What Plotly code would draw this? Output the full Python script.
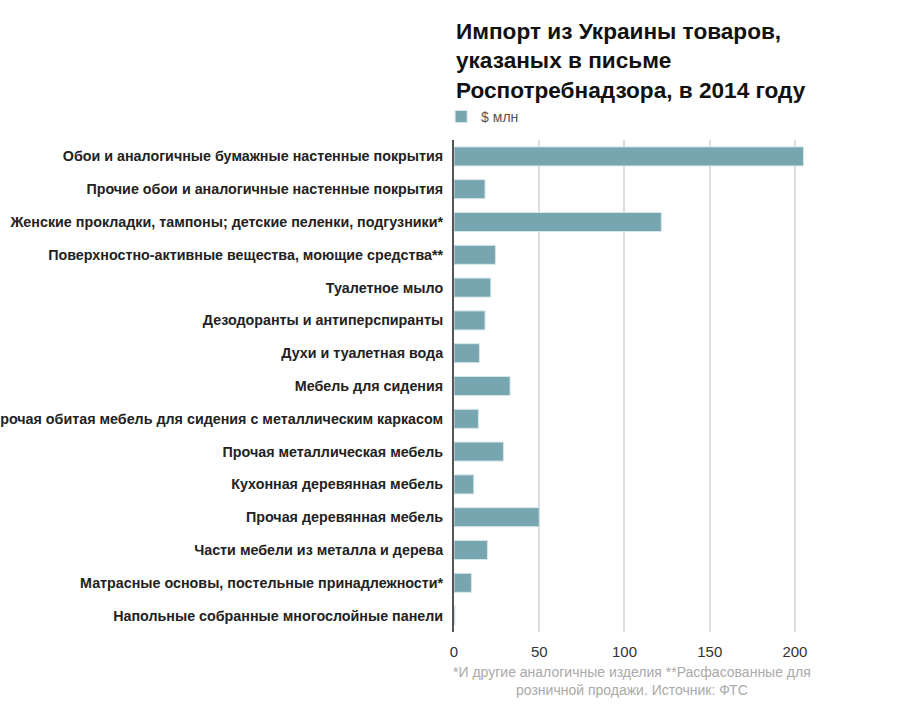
import plotly.graph_objects as go

categories = [
    "Обои и аналогичные бумажные настенные покрытия",
    "Прочие обои и аналогичные настенные покрытия",
    "Женские прокладки, тампоны; детские пеленки, подгузники*",
    "Поверхностно-активные вещества, моющие средства**",
    "Туалетное мыло",
    "Дезодоранты и антиперспиранты",
    "Духи и туалетная вода",
    "Мебель для сидения",
    "Прочая обитая мебель для сидения с металлическим каркасом",
    "Прочая металлическая мебель",
    "Кухонная деревянная мебель",
    "Прочая деревянная мебель",
    "Части мебели из металла и дерева",
    "Матрасные основы, постельные принадлежности*",
    "Напольные собранные многослойные панели",
]
values = [205, 18.2, 121.6, 24.3, 21.6, 18.2, 14.9, 32.9, 14.3, 29.0, 11.6, 50, 19.6, 10.2, 0.5]
series_name = "$ млн"
tick_values = [0, 50, 100, 150, 200]

title_text = "Импорт из Украины товаров,<br>указаных в письме<br>Роспотребнадзора, в 2014 году"
footer_text = "*И другие аналогичные изделия **Расфасованные для<br>розничной продажи. Источник: ФТС"

FONT = "Liberation Sans, Arial, sans-serif"

fig = go.Figure()
fig.add_trace(go.Bar(
    y=categories,
    x=values,
    orientation="h",
    name=series_name,
    marker=dict(color="#77a5b0", line=dict(color="#d6e6ea", width=1)),
    showlegend=True,
))

fig.update_layout(
    width=915,
    height=715,
    margin=dict(l=454, r=103, t=140, b=83),
    paper_bgcolor="white",
    plot_bgcolor="white",
    bargap=0.42,
    font=dict(family=FONT, color="#222"),
    legend=dict(
        orientation="h",
        x=-0.036, xanchor="left",
        y=1.047, yanchor="middle",
        font=dict(size=14, color="#555"),
        itemwidth=30,
    ),
    xaxis=dict(
        range=[0, 210],
        tickvals=tick_values,
        showgrid=True,
        gridcolor="#dddddd",
        gridwidth=2,
        zeroline=False,
        showline=False,
        tickfont=dict(size=15, color="#333"),
        ticks="outside",
        ticklen=6,
        tickcolor="rgba(0,0,0,0)",
        automargin=False,
    ),
    yaxis=dict(
        autorange="reversed",
        showline=True,
        linecolor="#555",
        linewidth=2,
        ticks="outside",
        ticklen=6,
        tickcolor="rgba(0,0,0,0)",
        tickfont=dict(size=14.3, color="#222", family=FONT, weight="bold"),
        showgrid=False,
        automargin=False,
    ),
    annotations=[
        dict(
            text="<b>" + title_text + "</b>",
            xref="paper", yref="paper",
            x=0, y=1 + 123 / 492, xanchor="left", yanchor="top",
            align="left", showarrow=False,
            font=dict(size=22.6, color="#111", family=FONT),
        ),
        dict(
            text=footer_text,
            xref="paper", yref="paper",
            x=0.497, y=-30 / 492, xanchor="center", yanchor="top",
            align="center", showarrow=False,
            font=dict(size=14, color="#aaaaaa", family=FONT),
        ),
    ],
)

fig.write_html(
    "out.html",
    config={"displayModeBar": False},
    post_script="document.body.style.margin='0';",
)
